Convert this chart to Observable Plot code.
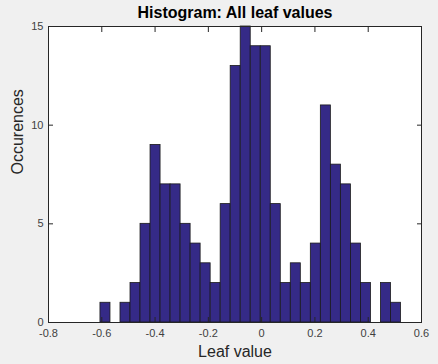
<!DOCTYPE html>
<html><head><meta charset="utf-8">
<script src="https://cdn.jsdelivr.net/npm/d3@7"></script>
<script src="https://cdn.jsdelivr.net/npm/@observablehq/plot@0.6"></script>
<style>html,body{margin:0;padding:0;background:#f0f0f0;}</style>
</head><body><div id="chart"></div>
<script>
const binEdges = [-0.6050,-0.5674,-0.5298,-0.4922,-0.4546,-0.4170,-0.3794,-0.3418,-0.3042,-0.2666,
  -0.2290,-0.1914,-0.1538,-0.1162,-0.0786,-0.0410,-0.0034,0.0342,0.0718,0.1094,
  0.1470,0.1846,0.2222,0.2598,0.2974,0.3350,0.3726,0.4102,0.4478,0.4854,0.5230];
const counts = [1,0,1,2,5,9,7,7,5,4,3,2,6,13,15,14,14,6,2,3,2,4,11,8,7,4,2,0,2,1];
const xTicks = [-0.8,-0.6,-0.4,-0.2,0,0.2,0.4,0.6];
const yTicks = [0,5,10,15];
const titleText = "Histogram: All leaf values";
const xLabel = "Leaf value";
const yLabel = "Occurences";

const bins = counts.map((c, i) => ({x1: binEdges[i], x2: binEdges[i + 1], count: c}));
const fmt = d => String(+(+d).toFixed(1));
const ink = "#262626";

const chart = Plot.plot({
  width: 438, height: 364,
  marginLeft: 48, marginRight: 17, marginTop: 26, marginBottom: 42,
  style: {background: "#f0f0f0", fontFamily: "'Liberation Sans', Arial, sans-serif", fontSize: "11px", color: ink},
  x: {domain: [-0.8, 0.6]},
  y: {domain: [0, 15]},
  marks: [
    Plot.frame({fill: "white", stroke: null}),
    Plot.rectY(bins, {x1: "x1", x2: "x2", y: "count", fill: "#352a87", stroke: "#1a1a1a", strokeWidth: 0.8, inset: 0}),
    Plot.axisX({anchor: "bottom", ticks: xTicks, tickSize: -5, tickPadding: 12, tickFormat: fmt, label: null, fill: "#404040"}),
    Plot.axisX({anchor: "top", ticks: xTicks, tickSize: -5, tickFormat: () => "", label: null}),
    Plot.axisY({anchor: "left", ticks: yTicks, tickSize: -5, tickPadding: 10, tickFormat: fmt, label: null, fill: "#404040"}),
    Plot.axisY({anchor: "right", ticks: yTicks, tickSize: -5, tickFormat: () => "", label: null}),
    Plot.frame({stroke: ink, fill: "none"}),
    Plot.text([titleText], {text: d => d, frameAnchor: "top", lineAnchor: "middle", dy: -14, fontWeight: "bold", fontSize: 16, fill: "black"}),
    Plot.text([xLabel], {text: d => d, frameAnchor: "bottom", lineAnchor: "middle", dy: 29, fontSize: 16, fill: ink}),
    Plot.text([yLabel], {text: d => d, frameAnchor: "left", lineAnchor: "middle", dx: -31, rotate: -90, fontSize: 16, fill: ink})
  ]
});
document.getElementById("chart").append(chart);
</script>
</body></html>
